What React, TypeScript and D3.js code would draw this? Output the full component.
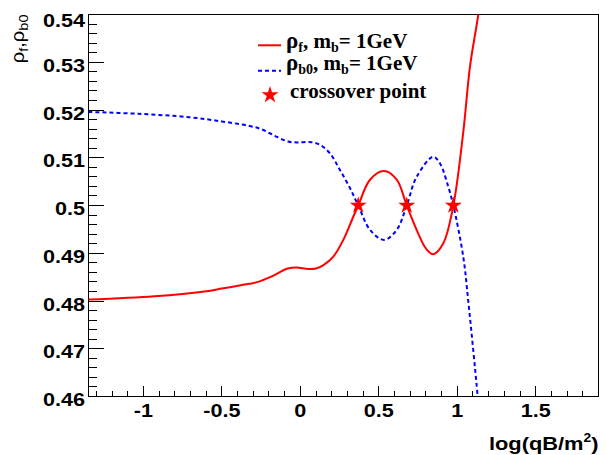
import React, { useEffect, useRef } from 'react'
import * as d3 from 'd3'

// axis tick labels
const xTickLabels = ['-1', '-0.5', '0', '0.5', '1', '1.5']
const yTickLabels = ['0.46', '0.47', '0.48', '0.49', '0.5', '0.51', '0.52', '0.53', '0.54']

// rho_f, m_b = 1GeV (red, solid)
const rhoFx = [-1.35, -0.93, -0.61, -0.5, -0.38, -0.27, -0.185, -0.08, -0.025, 0.05, 0.1, 0.147, 0.21, 0.274, 0.338, 0.369, 0.444, 0.533, 0.614, 0.678, 0.741, 0.8, 0.847, 0.911, 0.975, 1.038, 1.081, 1.134, 1.16]
const rhoF = [0.4803, 0.481, 0.482, 0.4826, 0.4833, 0.484, 0.4851, 0.4868, 0.487, 0.4867, 0.4868, 0.4875, 0.4893, 0.4928, 0.4977, 0.5, 0.5054, 0.5072, 0.5054, 0.5, 0.4949, 0.491, 0.4898, 0.4921, 0.5, 0.5153, 0.5291, 0.54, 0.547]

// rho_b0, m_b = 1GeV (blue, dashed)
const rhoBx = [-1.35, -1.03, -0.71, -0.5, -0.33, -0.25, -0.163, -0.078, -0.015, 0.06, 0.125, 0.189, 0.253, 0.317, 0.369, 0.444, 0.533, 0.614, 0.678, 0.741, 0.847, 0.89, 0.943, 0.975, 1.038, 1.07, 1.13, 1.15]
const rhoB = [0.5196, 0.5192, 0.5185, 0.5176, 0.5167, 0.516, 0.5146, 0.5134, 0.5132, 0.5133, 0.5127, 0.5109, 0.5074, 0.5036, 0.5, 0.4949, 0.4928, 0.4949, 0.5, 0.506, 0.5102, 0.5088, 0.5039, 0.5, 0.4893, 0.48, 0.46, 0.452]

// crossover points
const crossX = [0.369, 0.678, 0.975]
const crossY = [0.5, 0.5, 0.5]

const W = 607
const H = 455
const SANS = 'Liberation Sans, Arial, Helvetica, sans-serif'
const SERIF = 'Liberation Serif, Times New Roman, serif'

function draw(node: SVGSVGElement | null) {
  if (!node) return
  const svg = d3.select(node)
  svg.selectAll('*').remove()

  const left = 88.5, right = 598.5, top = 14.5, bottom = 396.5
  const x = d3.scaleLinear().domain([-1.35, 1.9]).range([left, right])
  const y = d3.scaleLinear().domain([0.46, 0.54]).range([bottom, top])
  const px = (v: number) => Math.round(v - 0.5) + 0.5 // snap to pixel centre

  svg.append('rect').attr('width', W).attr('height', H).attr('fill', '#fff')

  svg.append('defs').append('clipPath').attr('id', 'plotclip')
    .append('rect').attr('x', left).attr('y', top)
    .attr('width', right - left).attr('height', bottom - top)

  // frame
  svg.append('rect')
    .attr('x', left).attr('y', top)
    .attr('width', right - left).attr('height', bottom - top)
    .attr('fill', 'none').attr('stroke', '#000').attr('stroke-width', 1)
    .attr('shape-rendering', 'crispEdges')

  // tick marks, pointing into the pad
  const xMajor = xTickLabels.map(Number)
  const xMinor = d3.range(-13, 20).filter(i => i % 5 !== 0).map(i => i / 10)
  const yMajor = yTickLabels.map(Number)
  const yMinor = d3.range(230, 271).filter(i => i % 5 !== 0).map(i => i / 500)
  const ticks = svg.append('g').attr('fill', 'none').attr('stroke', '#000')
    .attr('stroke-width', 1).attr('shape-rendering', 'crispEdges')
  xMajor.forEach(v => ticks.append('path').attr('d', `M${px(x(v))},${bottom}V${bottom - 11}`))
  xMinor.forEach(v => ticks.append('path').attr('d', `M${px(x(v))},${bottom}V${bottom - 5.5}`))
  yMajor.forEach(v => ticks.append('path').attr('d', `M${left},${px(y(v))}H${left + 15.5}`))
  yMinor.forEach(v => ticks.append('path').attr('d', `M${left},${px(y(v))}H${left + 8}`))

  // tick labels (ROOT text looks horizontally stretched)
  xTickLabels.forEach(t => {
    svg.append('text')
      .attr('transform', `translate(${x(Number(t))},416.5) scale(1.2,1)`)
      .attr('text-anchor', 'middle')
      .attr('font-family', SANS).attr('font-weight', 'bold').attr('font-size', 18)
      .text(t)
  })
  yTickLabels.forEach(t => {
    const yy = Math.max(y(Number(t)) + 9.5, 27)
    svg.append('text')
      .attr('transform', `translate(85,${yy}) scale(1.2,1)`)
      .attr('text-anchor', 'end')
      .attr('font-family', SANS).attr('font-weight', 'bold').attr('font-size', 18)
      .text(t)
  })

  // x title
  const xt = svg.append('text')
    .attr('transform', `translate(${right},450) scale(1.15,1)`)
    .attr('text-anchor', 'end')
    .attr('font-family', SANS).attr('font-weight', 'bold').attr('font-size', 19)
  xt.append('tspan').text('log(qB/m')
  xt.append('tspan').attr('dy', -8).attr('font-size', 12).text('2')
  xt.append('tspan').attr('dy', 8).text(')')

  // y title
  const yt = svg.append('text')
    .attr('transform', `translate(24,${top}) rotate(-90) scale(1.12,1)`)
    .attr('text-anchor', 'end')
    .attr('font-family', SANS).attr('font-size', 18)
  yt.append('tspan').text('ρ')
  yt.append('tspan').attr('dy', 4).attr('font-size', 13).text('f')
  yt.append('tspan').attr('dy', -4).text(',ρ')
  yt.append('tspan').attr('dy', 4).attr('font-size', 13).text('b0')

  // curves
  const line = d3.line<[number, number]>()
    .x(d => x(d[0])).y(d => y(d[1]))
    .curve(d3.curveCatmullRom.alpha(0.5))

  const plot = svg.append('g').attr('clip-path', 'url(#plotclip)')
  plot.append('path')
    .datum(rhoBx.map((v, i) => [v, rhoB[i]] as [number, number]))
    .attr('d', line)
    .attr('fill', 'none').attr('stroke', '#0000ff').attr('stroke-width', 2)
    .attr('stroke-dasharray', '4,3')
  plot.append('path')
    .datum(rhoFx.map((v, i) => [v, rhoF[i]] as [number, number]))
    .attr('d', line)
    .attr('fill', 'none').attr('stroke', '#ff0000').attr('stroke-width', 2)

  const star = d3.symbol().type(d3.symbolStar).size(90)
  plot.selectAll('path.cross')
    .data(crossX.map((v, i) => [v, crossY[i]]))
    .join('path')
    .attr('class', 'cross')
    .attr('transform', d => `translate(${x(d[0])},${y(d[1])})`)
    .attr('d', star)
    .attr('fill', '#ff0000')

  // legend
  const lx1 = 258, lx2 = 281, tx = 286
  svg.append('line').attr('x1', lx1).attr('x2', lx2).attr('y1', 45.3).attr('y2', 45.3)
    .attr('stroke', '#ff0000').attr('stroke-width', 2)
  svg.append('line').attr('x1', lx1).attr('x2', lx2).attr('y1', 70.7).attr('y2', 70.7)
    .attr('stroke', '#0000ff').attr('stroke-width', 2).attr('stroke-dasharray', '4,3')
  svg.append('path').attr('transform', 'translate(270,95)').attr('d', star).attr('fill', '#ff0000')

  const entry = (yy: number, sub: string) => {
    const t = svg.append('text').attr('x', tx).attr('y', yy)
      .attr('font-family', SERIF).attr('font-weight', 'bold').attr('font-size', 21)
    t.append('tspan').attr('font-size', 23).text('ρ')
    t.append('tspan').attr('dy', 3.5).attr('font-size', 14).text(sub)
    t.append('tspan').attr('dy', -3.5).text(', m')
    t.append('tspan').attr('dy', 3.5).attr('font-size', 14).text('b')
    t.append('tspan').attr('dy', -3.5).text('= 1GeV')
  }
  entry(48, 'f')
  entry(70, 'b0')
  svg.append('text').attr('x', 290).attr('y', 97.5)
    .attr('font-family', SERIF).attr('font-weight', 'bold').attr('font-size', 21)
    .text('crossover point')
}

export default function App() {
  const ref = useRef<SVGSVGElement>(null)

  useEffect(() => {
    draw(ref.current)
  }, [])

  return (
    <svg ref={ref} width={W} height={H}
      style={{ position: 'absolute', left: 0, top: 0, display: 'block' }} />
  )
}
